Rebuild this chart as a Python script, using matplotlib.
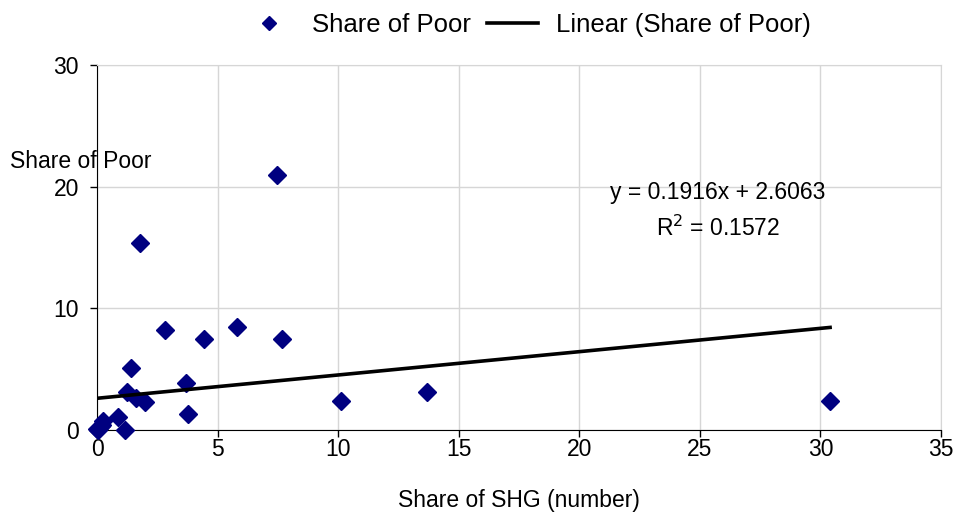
import matplotlib.pyplot as plt

plt.rcParams['font.family'] = ['Liberation Sans', 'DejaVu Sans']

# Share of SHG (number) vs Share of Poor
shg_share = [7.47, 1.78, 2.82, 5.8, 4.44, 7.67, 1.41, 3.69, 1.24, 1.6,
             2.0, 3.77, 10.1, 13.7, 30.4, 0.87, 1.16, 0.25, 0.2, 0.05,
             0.1, 0.0, 0.15]
poor_share = [21.0, 15.4, 8.2, 8.5, 7.5, 7.5, 5.1, 3.9, 3.1, 2.6,
              2.3, 1.3, 2.4, 3.1, 2.4, 1.1, 0.0, 0.75, 0.4, 0.0,
              0.2, 0.1, 0.3]

# Excel linear trendline
slope = 0.1916
intercept = 2.6063
r_squared = 0.1572

fig = plt.figure(figsize=(9.56, 5.12), dpi=100)
ax = fig.add_axes([97 / 956, 1 - 430 / 512, 844 / 956, 365 / 512])

grid_col = '#d6d6d6'
fs = 16.5
pts, = ax.plot(shg_share, poor_share, linestyle='none', marker='D',
               markersize=9, color='#000080', label='Share of Poor',
               clip_on=False, zorder=3)

x0, x1 = min(shg_share), max(shg_share)
trend, = ax.plot([x0, x1], [intercept + slope * x0, intercept + slope * x1],
                 color='black', linewidth=2.6, label='Linear (Share of Poor)',
                 zorder=4)

ax.set_xlim(0, 35)
ax.set_ylim(0, 30)
ax.set_xticks(range(0, 36, 5))
ax.set_yticks(range(0, 31, 10))
ax.grid(True, color=grid_col, linewidth=1)
ax.set_axisbelow(True)
for s in ['top', 'right']:
    ax.spines[s].set_color(grid_col)
ax.tick_params(labelsize=fs, length=5, width=1, direction='out')
ax.tick_params(axis='x', pad=1)
ax.tick_params(axis='y', pad=8)

ax.set_xlabel('Share of SHG (number)', fontsize=fs, labelpad=20)
fig.text(10 / 956, 1 - 162 / 512, 'Share of Poor', fontsize=fs,
         ha='left', va='center')

ax.text(25.76, 19.5, 'y = %.4fx + %.4f' % (slope, intercept), fontsize=fs,
        ha='center', va='center')
ax.text(25.76, 16.6, 'R$^2$ = %.4f' % r_squared, fontsize=fs,
        ha='center', va='center')

fig.legend(handles=[pts, trend], loc='center', bbox_to_anchor=(527 / 956, 1 - 25 / 512),
           ncol=2, frameon=False, fontsize=18.5, handlelength=2.0,
           columnspacing=0.6, handletextpad=0.7, markerscale=0.8)

fig.savefig('out.png', dpi=100)
